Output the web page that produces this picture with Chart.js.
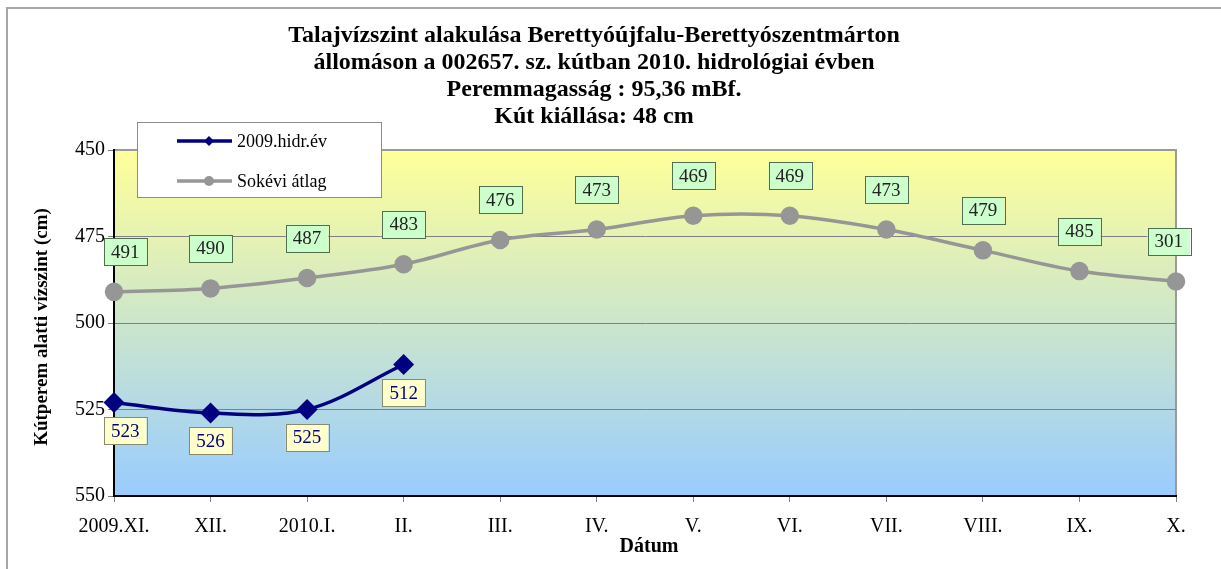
<!DOCTYPE html>
<html>
<head>
<meta charset="utf-8">
<script src="https://cdn.jsdelivr.net/npm/chart.js@4/dist/chart.umd.min.js"></script>
<style>
html,body{margin:0;padding:0;background:#fff;}
#wrap{width:1221px;height:569px;position:relative;}
</style>
</head>
<body>
<div id="wrap"><canvas id="c" width="1221" height="569"></canvas></div>
<script>
// ---- data ----
const categories = ['2009.XI.', 'XII.', '2010.I.', 'II.', 'III.', 'IV.', 'V.', 'VI.', 'VII.', 'VIII.', 'IX.', 'X.'];
const hydroYear = [523, 526, 525, 512, null, null, null, null, null, null, null, null];
const hydroLabels = ['523', '526', '525', '512'];
const longTermAvg = [491, 490, 487, 483, 476, 473, 469, 469, 473, 479, 485, 488];
const longTermLabels = ['491', '490', '487', '483', '476', '473', '469', '469', '473', '479', '485', '301'];
const yTicks = [450, 475, 500, 525, 550];
const seriesNames = ['2009.hidr.év', 'Sokévi átlag'];
const titleLines = [
  'Talajvízszint alakulása Berettyóújfalu-Berettyószentmárton',
  'állomáson a 002657. sz. kútban 2010. hidrológiai évben',
  'Peremmagasság : 95,36 mBf.',
  'Kút kiállása: 48 cm'
];
const yTitle = 'Kútperem alatti vízszint (cm)';
const xTitle = 'Dátum';

const SERIF = '"Liberation Serif", "Times New Roman", serif';

const decorPlugin = {
  id: 'decor',
  beforeDraw(chart) {
    const ctx = chart.ctx, a = chart.chartArea;
    ctx.save();
    ctx.strokeStyle = '#a6a6a6';
    ctx.lineWidth = 2;
    ctx.beginPath();
    ctx.moveTo(7, chart.height + 2);
    ctx.lineTo(7, 8);
    ctx.lineTo(chart.width + 2, 8);
    ctx.stroke();
    const g = ctx.createLinearGradient(0, a.top, 0, a.bottom);
    g.addColorStop(0, '#ffff99');
    g.addColorStop(1, '#99ccff');
    ctx.fillStyle = g;
    ctx.fillRect(a.left, a.top, a.right - a.left, a.bottom - a.top);
    ctx.strokeStyle = '#9a9a9a';
    ctx.lineWidth = 2;
    ctx.beginPath();
    ctx.moveTo(a.left, a.top);
    ctx.lineTo(a.right, a.top);
    ctx.lineTo(a.right, a.bottom);
    ctx.stroke();
    ctx.restore();
  },
  afterDraw(chart) {
    const ctx = chart.ctx, a = chart.chartArea;
    ctx.save();
    ctx.fillStyle = '#000';
    ctx.font = 'bold 24px ' + SERIF;
    ctx.textAlign = 'center';
    ctx.textBaseline = 'middle';
    const tx = chart.width * 0.4865;
    titleLines.forEach((t, i) => ctx.fillText(t, tx, 36 + i * 27));
    ctx.font = 'bold 20px ' + SERIF;
    ctx.fillText(xTitle, (a.left + a.right) / 2 + 4, a.bottom + 51);
    ctx.save();
    ctx.font = 'bold 19px ' + SERIF;
    ctx.translate(42, (a.top + a.bottom) / 2 + 4);
    ctx.rotate(-Math.PI / 2);
    ctx.fillText(yTitle, 0, 0);
    ctx.restore();
    // legend
    const lx = 137, ly = 122, lw = 244, lh = 75;
    ctx.fillStyle = '#fff';
    ctx.fillRect(lx, ly, lw, lh);
    ctx.strokeStyle = '#8c8c8c';
    ctx.lineWidth = 1;
    ctx.strokeRect(lx + 0.5, ly + 0.5, lw, lh);
    chart.data.datasets.forEach((ds, i) => {
      const yy = ly + 19 + i * 40;
      ctx.strokeStyle = ds.borderColor;
      ctx.lineWidth = 3.5;
      ctx.beginPath();
      ctx.moveTo(lx + 40, yy);
      ctx.lineTo(lx + 95, yy);
      ctx.stroke();
      ctx.fillStyle = ds.borderColor;
      const mx = lx + 72;
      if (ds.pointStyle === 'rectRot') {
        ctx.beginPath();
        ctx.moveTo(mx, yy - 5); ctx.lineTo(mx + 5, yy); ctx.lineTo(mx, yy + 5); ctx.lineTo(mx - 5, yy); ctx.closePath();
        ctx.fill();
      } else {
        ctx.beginPath();
        ctx.arc(mx, yy, 5, 0, Math.PI * 2);
        ctx.fill();
      }
      ctx.fillStyle = '#000';
      ctx.font = '18px ' + SERIF;
      ctx.textAlign = 'left';
      ctx.fillText(ds.label, lx + 100, yy + 1);
    });
    ctx.restore();
  },
  afterDatasetsDraw(chart) {
    const ctx = chart.ctx, a = chart.chartArea;
    ctx.save();
    ctx.font = '19px ' + SERIF;
    ctx.textAlign = 'center';
    ctx.textBaseline = 'middle';
    chart.data.datasets.forEach((ds, i) => {
      const meta = chart.getDatasetMeta(i);
      const labels = ds.valueLabels;
      meta.data.forEach((pt, j) => {
        if (ds.data[j] == null) return;
        const txt = labels[j];
        const w = ctx.measureText(txt).width + 14, h = 27;
        let cx = pt.x;
        const cy = ds.labelAbove ? pt.y - 40 : pt.y + 28;
        if (cx - w / 2 < a.left - 10) cx = a.left - 10 + w / 2;
        if (cx + w / 2 > a.right + 14) cx = a.right + 14 - w / 2;
        ctx.fillStyle = ds.labelFill;
        ctx.fillRect(cx - w / 2, cy - h / 2, w, h);
        ctx.strokeStyle = ds.labelStroke;
        ctx.lineWidth = 1;
        ctx.strokeRect(Math.round(cx - w / 2) + 0.5, Math.round(cy - h / 2) + 0.5, Math.round(w), h);
        ctx.fillStyle = ds.labelColor;
        ctx.fillText(txt, cx, cy + 1);
      });
    });
    ctx.restore();
  }
};

new Chart(document.getElementById('c'), {
  type: 'line',
  data: {
    labels: categories,
    datasets: [
      {
        label: seriesNames[0],
        data: hydroYear,
        valueLabels: hydroLabels,
        borderColor: '#000080',
        backgroundColor: '#000080',
        borderWidth: 3.5,
        pointStyle: 'rectRot',
        pointRadius: 8,
        pointHoverRadius: 8,
        tension: 0.35,
        spanGaps: false,
        labelAbove: false,
        labelFill: '#ffffcc',
        labelStroke: '#8a8a70',
        labelColor: '#000080',
        order: 1
      },
      {
        label: seriesNames[1],
        data: longTermAvg,
        valueLabels: longTermLabels,
        borderColor: '#969696',
        backgroundColor: '#969696',
        borderWidth: 3.5,
        pointStyle: 'circle',
        pointRadius: 7.5,
        pointHoverRadius: 7.5,
        tension: 0.35,
        labelAbove: true,
        labelFill: '#ccffcc',
        labelStroke: '#4f6f4f',
        labelColor: '#222',
        order: 2
      }
    ]
  },
  options: {
    responsive: false,
    animation: false,
    events: [],
    layout: { padding: { left: 0, right: 45, top: 150, bottom: 0 } },
    plugins: { legend: { display: false }, title: { display: false }, tooltip: { enabled: false } },
    scales: {
      x: {
        offset: false,
        afterFit: (s) => { s.height = 73; },
        grid: { drawOnChartArea: false, drawTicks: true, tickLength: 6, color: '#808080' },
        border: { color: '#000', width: 2 },
        ticks: { color: '#000', font: { family: SERIF, size: 20 }, padding: 13, maxRotation: 0, autoSkip: false }
      },
      y: {
        reverse: true,
        min: 450,
        max: 550,
        afterFit: (s) => { s.width = 114; },
        afterBuildTicks: (s) => { s.ticks = yTicks.map(v => ({ value: v })); },
        grid: {
          color: (c) => (c.tick && (c.tick.value === 450 || c.tick.value === 550)) ? 'rgba(0,0,0,0)' : '#808080',
          tickColor: '#808080',
          tickLength: 6,
          lineWidth: 1
        },
        border: { color: '#000', width: 2 },
        ticks: { color: '#000', font: { family: SERIF, size: 20 }, padding: 3 }
      }
    }
  },
  plugins: [decorPlugin]
});
</script>
</body>
</html>
